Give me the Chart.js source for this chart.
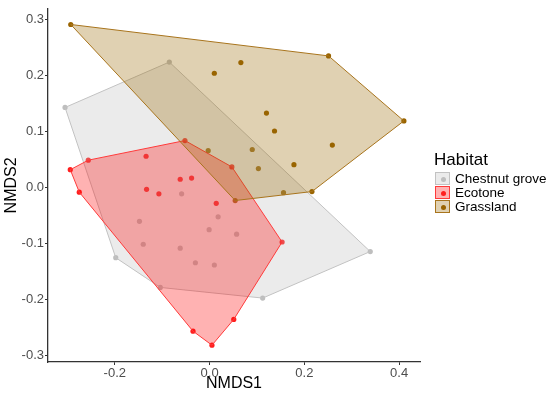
<!DOCTYPE html>
<html>
<head>
<meta charset="utf-8">
<script src="https://cdn.jsdelivr.net/npm/chart.js@4.4.1/dist/chart.umd.min.js"></script>
<style>
  html, body { margin: 0; padding: 0; background: #fff; }
  #wrap { position: relative; width: 550px; height: 394px; }
  #legend { position: absolute; left: 434px; top: 151px; font-family: 'Liberation Sans', Arial, sans-serif; color: #000; }
  #legend .ttl { font-size: 17px; line-height: 17px; margin-bottom: 4px; }
  #legend .row { position: relative; height: 14px; }
  #legend .key { position: absolute; left: 1px; top: 0; width: 15px; height: 13px; box-sizing: border-box; border: 1px solid; }
  #legend .dot { position: absolute; left: 5px; top: 4px; width: 5px; height: 5px; border-radius: 50%; }
  #legend .lbl { position: absolute; left: 21px; top: -1px; font-size: 13.5px; line-height: 15px; white-space: nowrap; }
</style>
</head>
<body>
<div id="wrap">
  <canvas id="myChart" width="550" height="394"></canvas>
  <div id="legend"></div>
</div>
<script>
// Habitat groups
const habitats = ['Chestnut grove', 'Ecotone', 'Grassland'];

// NMDS scores
const chestnutX = [-0.085, -0.305, -0.059, -0.148, 0.018, -0.001, 0.057, -0.140, -0.062, -0.198, -0.030, 0.010, -0.104, 0.112, 0.339];
const chestnutY = [0.224, 0.143, -0.011, -0.060, -0.052, -0.075, -0.083, -0.101, -0.108, -0.125, -0.134, -0.138, -0.178, -0.197, -0.114];
const ecotoneX = [-0.052, -0.256, -0.294, -0.134, 0.047, -0.062, -0.038, -0.275, -0.133, -0.107, 0.014, -0.035, 0.005, 0.051, 0.153];
const ecotoneY = [0.084, 0.049, 0.032, 0.056, 0.037, 0.015, 0.017, -0.008, -0.003, -0.011, -0.028, -0.256, -0.281, -0.235, -0.097];
const grasslandX = [-0.293, 0.010, 0.066, 0.120, 0.137, -0.003, 0.090, 0.103, 0.251, 0.410, 0.259, 0.178, 0.216, 0.156, 0.054];
const grasslandY = [0.291, 0.204, 0.223, 0.133, 0.101, 0.066, 0.068, 0.034, 0.235, 0.119, 0.076, 0.041, -0.007, -0.009, -0.023];

// convex hull vertices (indices into the arrays above)
const chestnutHull = [1, 0, 14, 13, 12, 9];
const ecotoneHull = [2, 1, 0, 4, 14, 13, 12, 11, 7];
const grasslandHull = [0, 8, 9, 12, 14];

const xTicks = [-0.2, 0.0, 0.2, 0.4];
const yTicks = [-0.3, -0.2, -0.1, 0.0, 0.1, 0.2, 0.3];

const pointColors = ['#bebebe', '#ff1f1f', '#9a6400'];
const lineColors = ['#c2c2c2', '#ff3a3a', '#a8741c'];
const fillColors = ['rgba(190,190,190,0.3)', 'rgba(255,0,0,0.3)', 'rgba(153,102,0,0.3)'];

const groups = [
  { x: chestnutX, y: chestnutY, hull: chestnutHull },
  { x: ecotoneX, y: ecotoneY, hull: ecotoneHull },
  { x: grasslandX, y: grasslandY, hull: grasslandHull }
];

const datasets = [];
groups.forEach((g, i) => {
  // points first (drawn underneath the polygons)
  datasets.push({
    label: habitats[i],
    data: g.x.map((v, k) => ({ x: v, y: g.y[k] })),
    backgroundColor: pointColors[i],
    borderWidth: 0,
    pointRadius: 2.6,
    order: 10
  });
});
groups.forEach((g, i) => {
  const poly = g.hull.map(k => ({ x: g.x[k], y: g.y[k] }));
  poly.push(poly[0]); // close the shape
  datasets.push({
    label: habitats[i] + ' hull',
    data: poly,
    showLine: true,
    fill: 'shape',
    backgroundColor: fillColors[i],
    borderColor: lineColors[i],
    borderWidth: 1,
    pointRadius: 0,
    tension: 0,
    order: 3 - i
  });
});

const tickFont = { family: "'Liberation Sans', Arial, sans-serif", size: 13 };
const titleFont = { family: "'Liberation Sans', Arial, sans-serif", size: 16 };

const ctx = document.getElementById('myChart');
new Chart(ctx, {
  type: 'scatter',
  data: { datasets },
  options: {
    responsive: false,
    animation: false,
    events: [],
    layout: { padding: { top: 3, right: 130, left: 0, bottom: 0 } },
    plugins: {
      legend: { display: false },
      tooltip: { enabled: false }
    },
    scales: {
      x: {
        type: 'linear',
        min: -0.341,
        max: 0.444,
        afterBuildTicks: (s) => { s.ticks = xTicks.map(v => ({ value: v })); },
        afterFit: (s) => { s.height = 32; },
        border: { display: true, color: '#333', width: 1.3 },
        grid: { display: true, drawOnChartArea: false, drawTicks: true, tickLength: 3, tickColor: '#333' },
        ticks: { color: '#4d4d4d', font: tickFont, padding: 1, callback: (v) => v.toFixed(1) },
        title: { display: true, text: 'NMDS1', color: '#000', font: titleFont, padding: { top: 0, bottom: 1 } }
      },
      y: {
        type: 'linear',
        min: -0.311,
        max: 0.319,
        afterBuildTicks: (s) => { s.ticks = yTicks.map(v => ({ value: v })); },
        afterFit: (s) => { s.width = 48; },
        border: { display: true, color: '#333', width: 1.3 },
        grid: { display: true, drawOnChartArea: false, drawTicks: true, tickLength: 3, tickColor: '#333' },
        ticks: { color: '#4d4d4d', font: tickFont, padding: 1, callback: (v) => v.toFixed(1) },
        title: { display: true, text: 'NMDS2', color: '#000', font: titleFont, padding: { top: 2, bottom: 0 } }
      }
    }
  }
});

// Legend (ggplot style keys)
const legend = document.getElementById('legend');
let html = '<div class="ttl">Habitat</div>';
habitats.forEach((h, i) => {
  html += '<div class="row"><div class="key" style="background:' + fillColors[i] + ';border-color:' + lineColors[i] + '">' +
    '<div class="dot" style="background:' + pointColors[i] + '"></div></div>' +
    '<div class="lbl">' + h + '</div></div>';
});
legend.innerHTML = html;
</script>
</body>
</html>
